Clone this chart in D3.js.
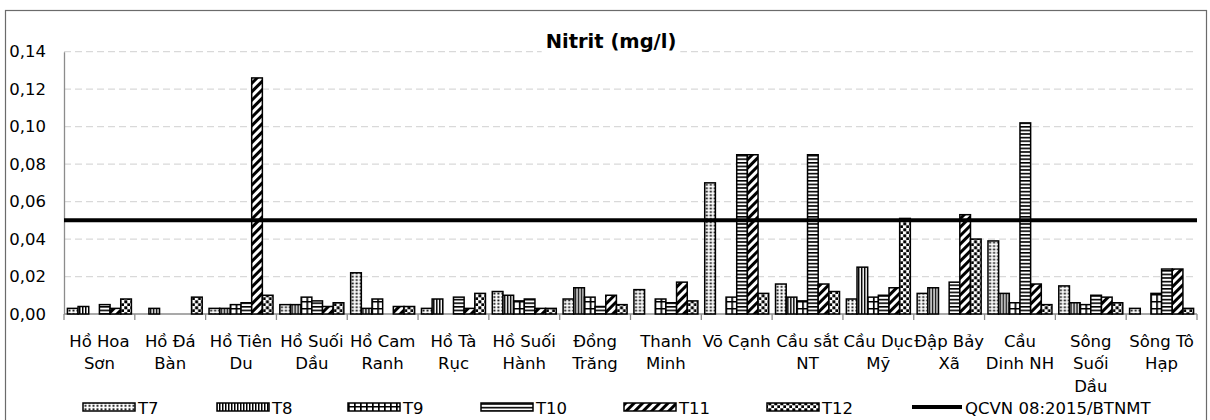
<!DOCTYPE html>
<html>
<head>
<meta charset="utf-8">
<script src="https://cdn.jsdelivr.net/npm/d3@7"></script>
<style>
 body { margin: 0; background: #fff; }
 svg { display: block; font-family: "DejaVu Sans", Verdana, sans-serif; }
</style>
</head>
<body>
<svg width="1210" height="420"></svg>
<script>
// Data
var chartTitle = "Nitrit (mg/l)";
var categories = ["Hồ Hoa Sơn", "Hồ Đá Bàn", "Hồ Tiên Du", "Hồ Suối Dầu", "Hồ Cam Ranh",
  "Hồ Tà Rục", "Hồ Suối Hành", "Đồng Trăng", "Thanh Minh", "Võ Cạnh", "Cầu sắt NT",
  "Cầu Dục Mỹ", "Đập Bảy Xã", "Cầu Dinh NH", "Sông Suối Dầu", "Sông Tô Hạp"];
// how the category labels wrap under the axis
var labelLines = [["Hồ Hoa", "Sơn"], ["Hồ Đá", "Bàn"], ["Hồ Tiên", "Du"], ["Hồ Suối", "Dầu"],
  ["Hồ Cam", "Ranh"], ["Hồ Tà", "Rục"], ["Hồ Suối", "Hành"], ["Đồng", "Trăng"], ["Thanh", "Minh"],
  ["Võ Cạnh"], ["Cầu sắt", "NT"], ["Cầu Dục", "Mỹ"], ["Đập Bảy", "Xã"], ["Cầu", "Dinh NH"],
  ["Sông", "Suối", "Dầu"], ["Sông Tô", "Hạp"]];
var seriesNames = ["T7", "T8", "T9", "T10", "T11", "T12"];
var t7  = [0.003, null, 0.003, 0.005, 0.022, 0.003, 0.012, 0.008, 0.013, 0.070, 0.016, 0.008, 0.011, 0.039, 0.015, 0.003];
var t8  = [0.004, 0.003, 0.003, 0.005, 0.003, 0.008, 0.010, 0.014, null, null, 0.009, 0.025, 0.014, 0.011, 0.006, null];
var t9  = [null, null, 0.005, 0.009, 0.008, null, 0.007, 0.009, 0.008, 0.009, 0.007, 0.009, null, 0.006, 0.005, 0.011];
var t10 = [0.005, null, 0.006, 0.007, null, 0.009, 0.008, 0.004, 0.006, 0.085, 0.085, 0.010, 0.017, 0.102, 0.010, 0.024];
var t11 = [0.003, null, 0.126, 0.004, 0.004, 0.003, 0.003, 0.010, 0.017, 0.085, 0.016, 0.014, 0.053, 0.016, 0.009, 0.024];
var t12 = [0.008, 0.009, 0.010, 0.006, 0.004, 0.011, 0.003, 0.005, 0.007, 0.011, 0.012, 0.051, 0.040, 0.005, 0.006, 0.003];
var qcvnName = "QCVN 08:2015/BTNMT";
var qcvnLimit = 0.05;
var yTicks = [0, 0.02, 0.04, 0.06, 0.08, 0.10, 0.12, 0.14];

var seriesValues = [t7, t8, t9, t10, t11, t12];

var svg = d3.select("svg"),
  width = +svg.attr("width"),
  height = +svg.attr("height");

var plot = { left: 64, right: 1197, top: 51.7, bottom: 314 };

var x0 = d3.scaleBand().domain(categories).range([plot.left, plot.right]);
var x1 = d3.scaleBand().domain(seriesNames).range([0, x0.bandwidth()]).paddingOuter(0.32);
var y = d3.scaleLinear().domain([0, 0.14]).range([plot.bottom, plot.top]);

var viFormat = d3.formatLocale({ decimal: ",", thousands: ".", grouping: [3], currency: ["", ""] }).format(".2f");

// Fill patterns, one per month
var defs = svg.append("defs");
function makePattern(id, w, h, rot, draw) {
  var p = defs.append("pattern").attr("id", id)
    .attr("patternUnits", "userSpaceOnUse")
    .attr("width", w).attr("height", h);
  if (rot) p.attr("patternTransform", "rotate(" + rot + ")");
  p.append("rect").attr("width", w).attr("height", h).attr("fill", "#fff");
  draw(p);
}
makePattern("pT7", 4, 3.4, 0, function (p) {
  p.append("rect").attr("x", 0.5).attr("y", 0.4).attr("width", 2).attr("height", 1.7).attr("fill", "#000");
});
makePattern("pT8", 3, 3, 0, function (p) {
  p.append("rect").attr("width", 1.5).attr("height", 3).attr("fill", "#000");
});
makePattern("pT9", 6, 7, 0, function (p) {
  p.append("rect").attr("width", 1.7).attr("height", 7).attr("fill", "#000");
  p.append("rect").attr("width", 6).attr("height", 1.5).attr("fill", "#000");
});
makePattern("pT10", 4, 3.6, 0, function (p) {
  p.append("rect").attr("width", 4).attr("height", 1.6).attr("fill", "#000");
});
makePattern("pT11", 6, 6, 45, function (p) {
  p.append("rect").attr("width", 3).attr("height", 6).attr("fill", "#000");
});
makePattern("pT12", 6, 6, 0, function (p) {
  p.append("rect").attr("x", 0.3).attr("y", 0.3).attr("width", 3).attr("height", 3).attr("fill", "#000");
  p.append("rect").attr("x", 3.3).attr("y", 3.3).attr("width", 3).attr("height", 3).attr("fill", "#000");
});

// Outer frame
svg.append("rect")
  .attr("x", 5.5).attr("y", 10.5)
  .attr("width", 1201).attr("height", height)
  .attr("fill", "none").attr("stroke", "#6b6b6b").attr("stroke-width", 1.2);

// Gridlines
svg.append("g").selectAll("line")
  .data(yTicks.filter(function (d) { return d > 0; }))
  .enter().append("line")
  .attr("x1", plot.left).attr("x2", plot.right)
  .attr("y1", function (d) { return y(d); })
  .attr("y2", function (d) { return y(d); })
  .attr("stroke", "#d9d9d9").attr("stroke-width", 1.3)
  .attr("stroke-dasharray", "7,4");

// Y axis
var yAxis = svg.append("g")
  .attr("transform", "translate(" + plot.left + ",0)")
  .call(d3.axisLeft(y).tickValues(yTicks).tickFormat(viFormat).tickSize(0).tickPadding(18));
yAxis.select(".domain").attr("stroke", "#8c8c8c").attr("stroke-width", 1.3);
yAxis.selectAll("text").attr("font-size", "16.5px").attr("fill", "#000")
  .attr("font-family", "DejaVu Sans, Verdana, sans-serif");

// X axis with ticks on category boundaries
svg.append("line")
  .attr("x1", plot.left).attr("x2", plot.right)
  .attr("y1", plot.bottom).attr("y2", plot.bottom)
  .attr("stroke", "#8c8c8c").attr("stroke-width", 1.3);
var bounds = categories.map(function (c) { return x0(c); }).concat([plot.right]);
svg.append("g").selectAll("line")
  .data(bounds).enter().append("line")
  .attr("x1", function (d) { return d; }).attr("x2", function (d) { return d; })
  .attr("y1", plot.bottom).attr("y2", plot.bottom + 6)
  .attr("stroke", "#8c8c8c").attr("stroke-width", 1.3);

// Bars
var groups = svg.append("g").selectAll("g")
  .data(categories).enter().append("g")
  .attr("transform", function (c) { return "translate(" + x0(c) + ",0)"; });
groups.selectAll("rect")
  .data(function (c, i) {
    return seriesNames.map(function (s, k) { return { key: s, value: seriesValues[k][i] }; })
      .filter(function (d) { return d.value != null; });
  })
  .enter().append("rect")
  .attr("x", function (d) { return x1(d.key); })
  .attr("y", function (d) { return y(d.value); })
  .attr("width", x1.bandwidth())
  .attr("height", function (d) { return y(0) - y(d.value); })
  .attr("fill", function (d) { return "url(#p" + d.key + ")"; })
  .attr("stroke", "#000").attr("stroke-width", 1.5);

// Limit line
svg.append("line")
  .attr("x1", plot.left).attr("x2", plot.right)
  .attr("y1", y(qcvnLimit)).attr("y2", y(qcvnLimit))
  .attr("stroke", "#000").attr("stroke-width", 4);

// Category labels
svg.append("g").selectAll("text")
  .data(categories).enter().append("text")
  .attr("text-anchor", "middle")
  .attr("font-size", "16.5px")
  .attr("x", function (c) { return x0(c) + x0.bandwidth() / 2; })
  .attr("y", 347)
  .each(function (c, i) {
    var t = d3.select(this);
    labelLines[i].forEach(function (line, j) {
      t.append("tspan")
        .attr("x", x0(c) + x0.bandwidth() / 2)
        .attr("dy", j === 0 ? 0 : 22.3)
        .text(line);
    });
  });

// Title with white backing over the top gridline
var titleG = svg.append("g");
var titleText = titleG.append("text")
  .attr("x", 611).attr("y", 48)
  .attr("text-anchor", "middle")
  .attr("font-size", "19.5px").attr("font-weight", "bold")
  .text(chartTitle);
var tb = titleText.node().getBBox();
titleG.insert("rect", "text")
  .attr("x", tb.x - 4).attr("y", tb.y).attr("width", tb.width + 8).attr("height", tb.height)
  .attr("fill", "#fff");

// Legend
var legendX = [83, 217, 348, 481, 624, 767];
var legend = svg.append("g").attr("class", "legend");
seriesNames.forEach(function (s, i) {
  legend.append("rect")
    .attr("x", legendX[i]).attr("y", 403)
    .attr("width", 52).attr("height", 8)
    .attr("fill", "url(#p" + s + ")")
    .attr("stroke", "#000").attr("stroke-width", 1.5);
  legend.append("text")
    .attr("x", legendX[i] + 55).attr("y", 414)
    .attr("font-size", "16.5px")
    .text(s);
});
legend.append("line")
  .attr("x1", 912).attr("x2", 962).attr("y1", 407).attr("y2", 407)
  .attr("stroke", "#000").attr("stroke-width", 4);
legend.append("text")
  .attr("x", 965).attr("y", 414)
  .attr("font-size", "16.5px")
  .text(qcvnName);
</script>
</body>
</html>
